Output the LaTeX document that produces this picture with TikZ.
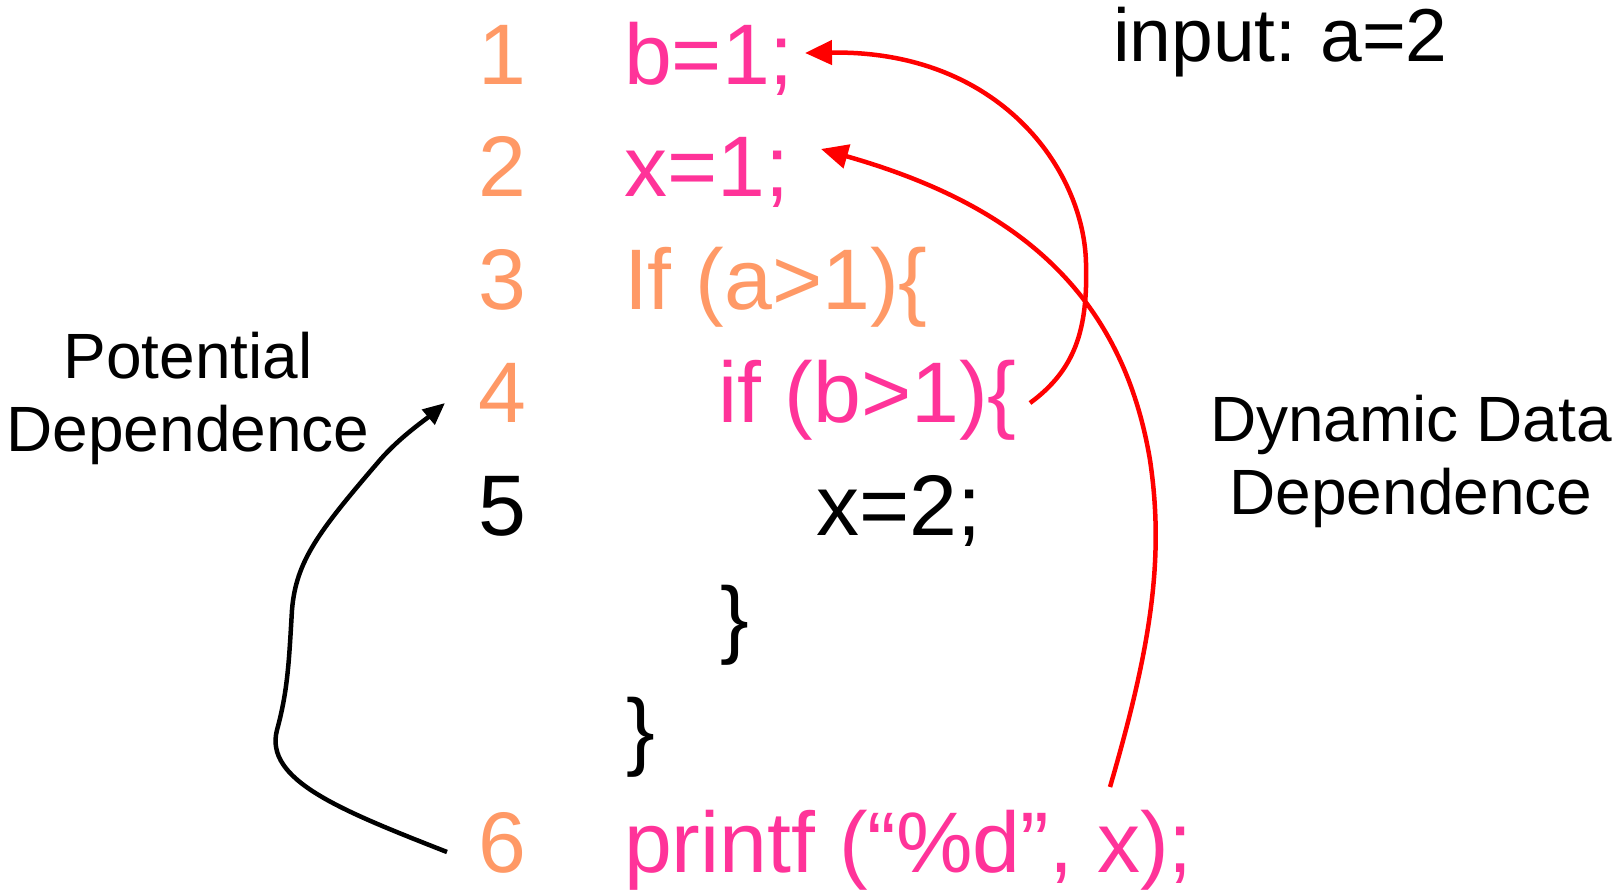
\documentclass[tikz,border=0pt]{standalone}
\usepackage{fontspec}
\setmainfont{Liberation Sans}
\usetikzlibrary{arrows.meta}
\definecolor{codeorange}{RGB}{255,153,102}
\definecolor{codepink}{RGB}{255,51,153}
\definecolor{arrowred}{RGB}{255,0,0}
\begin{document}
\begin{tikzpicture}[x=1pt,y=-1pt,
  txt/.style={anchor=base west, inner sep=0pt, outer sep=0pt},
  code/.style={txt, font=\fontsize{86}{86}\selectfont},
  lbl/.style={anchor=base, inner sep=0pt, outer sep=0pt, font=\fontsize{64}{64}\selectfont},
  redarrow/.style={draw=arrowred, line width=4.5pt, -{Triangle[length=27pt,width=24pt]}},
  blackarrow/.style={draw=black, line width=4.5pt, -{Triangle[length=22pt,width=19pt]}}]
\useasboundingbox (0,0) rectangle (1618,893);

% code lines
\node[code, text=codeorange] (n1) at (478,85) {1};
\node[code, text=codepink] (c1) at (624,85) {b=1;};
\node[code, text=codeorange] (n2) at (478,197) {2};
\node[code, text=codepink] (c2) at (624,197) {x=1;};
\node[code, text=codeorange] (n3) at (478,310) {3};
\node[code, text=codeorange] (c3) at (624,310) {If (a>1)\{};
\node[code, text=codeorange] (n4) at (478,422) {4};
\node[code, text=codepink] (c4) at (718,422) {if (b>1)\{};
\node[code] (n5) at (478,535) {5};
\node[code] (c5) at (816,535) {x=2;};
\node[code] (c6) at (720,647) {\}};
\node[code] (c7) at (626,759) {\}};
\node[code, text=codeorange] (n6) at (478,872) {6};
\node[code, text=codepink] (c8) at (624,872) {printf (“\%d”, x);};

% labels
\node[txt, font=\fontsize{75}{75}\selectfont] (inp) at (1113,62) {input:\hspace{-0.05em} a=2};
\node[lbl] (pd1) at (188,379) {Potential};
\node[lbl] (pd2) at (188,451) {Dependence};
\node[lbl] (dd1) at (1411,442) {Dynamic Data};
\node[lbl] (dd2) at (1411,514) {Dependence};

% arrow ends
\coordinate (r1s) at (1030,403);
\coordinate (r1e) at (805,53);
\coordinate (r2s) at (1110,787);
\coordinate (r2e) at (821,149);
\coordinate (bs) at (447,852);
\coordinate (be) at (445,403);

\draw[redarrow] (r1s) .. controls (1075,370) and (1088,330) .. (1086,263)
  .. controls (1084,170) and (1000,50) .. (r1e);
\draw[redarrow] (r2s) .. controls (1150,650) and (1165,560) .. (1150,460)
  .. controls (1120,280) and (1000,200) .. (r2e);
\draw[blackarrow] (bs) .. controls (340,810) and (264,780) .. (277,730)
  .. controls (288,690) and (289,660) .. (292,610)
  .. controls (296,560) and (320,530) .. (380,460)
  .. controls (400,437) and (425,420) .. (be);
\end{tikzpicture}
\end{document}
